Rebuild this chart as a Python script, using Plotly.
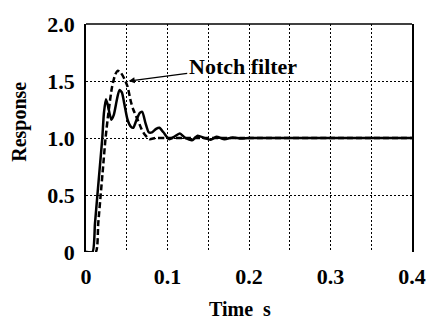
import plotly.graph_objects as go

# Solid curve (with notch filter)
t_solid = [0, 0.008, 0.011, 0.014, 0.017, 0.020, 0.022, 0.0245, 0.027, 0.031, 0.034, 0.038, 0.041, 0.044,
           0.047, 0.051, 0.055, 0.058, 0.062, 0.066, 0.069, 0.073, 0.077, 0.081, 0.086, 0.090, 0.095,
           0.102, 0.108, 0.115, 0.122, 0.130, 0.137, 0.145, 0.153, 0.160, 0.170, 0.180, 0.190, 0.200,
           0.220, 0.250, 0.300, 0.350, 0.400]
y_solid = [0, 0, 0.25, 0.5, 0.75, 1.0, 1.22, 1.34, 1.28, 1.16, 1.20, 1.34, 1.42, 1.40,
           1.30, 1.16, 1.10, 1.09, 1.16, 1.22, 1.23, 1.13, 1.05, 1.05, 1.08, 1.09, 1.05,
           0.99, 1.01, 1.04, 1.00, 0.98, 1.02, 1.00, 0.985, 1.01, 0.99, 1.005, 0.995, 1.0,
           1.0, 1.0, 1.0, 1.0, 1.0]

# Dashed curve (without notch filter)
t_dash = [0, 0.012, 0.015, 0.018, 0.021, 0.024, 0.028, 0.032, 0.036, 0.039, 0.043, 0.047, 0.051,
          0.055, 0.058, 0.064, 0.068, 0.072, 0.078, 0.085, 0.100, 0.200, 0.300, 0.400]
y_dash = [0, 0, 0.25, 0.5, 0.75, 1.0, 1.25, 1.45, 1.56, 1.59, 1.57, 1.52, 1.45,
          1.32, 1.25, 1.15, 1.08, 1.03, 0.99, 1.0, 1.0, 1.0, 1.0, 1.0]

x_grid = [0, 0.05, 0.1, 0.15, 0.2, 0.25, 0.3, 0.35, 0.4]
x_labels = ["0", "", "0.1", "", "0.2", "", "0.3", "", "0.4"]
y_ticks = [0, 0.5, 1.0, 1.5, 2.0]
y_labels = ["0", "0.5", "1.0", "1.5", "2.0"]

FONT = "Liberation Serif"

fig = go.Figure()
fig.add_trace(go.Scatter(x=t_dash, y=y_dash, mode="lines",
                         line=dict(color="black", width=2.5, dash="6px,3px", shape="spline", smoothing=0.6)))
fig.add_trace(go.Scatter(x=t_solid, y=y_solid, mode="lines",
                         line=dict(color="black", width=2.5, shape="spline", smoothing=0.6)))

fig.update_layout(
    width=438, height=320,
    margin=dict(l=86, r=16, t=20, b=68),
    paper_bgcolor="white", plot_bgcolor="white",
    showlegend=False,
    font=dict(family=FONT, color="black", size=22, weight="bold"),
)
fig.update_xaxes(range=[0, 0.4], tickvals=x_grid, ticktext=x_labels,
                 showgrid=True, gridcolor="black", griddash="2px,2px", gridwidth=1,
                 zeroline=False, showline=False, ticks="", ticklabelstandoff=9,
                 tickfont=dict(family=FONT, size=22, weight="bold"))
fig.update_yaxes(range=[0, 2.0], tickvals=y_ticks, ticktext=y_labels,
                 showgrid=True, gridcolor="black", griddash="2px,2px", gridwidth=1,
                 zeroline=False, showline=True, linecolor="black", linewidth=1.5, mirror=True,
                 ticks="", ticklabelstandoff=5,
                 tickfont=dict(family=FONT, size=22, weight="bold"))
# top border
fig.add_shape(type="line", xref="paper", yref="paper", x0=0, x1=1, y0=1, y1=1,
              line=dict(color="black", width=1.5))

fig.add_annotation(x=0.0524, y=1.50, xref="x", yref="y", text="Notch filter",
                   showarrow=True, ax=114, ay=-15, arrowhead=2, arrowsize=1, arrowwidth=1.2,
                   arrowcolor="black", font=dict(family=FONT, size=22, weight="bold"))
fig.add_annotation(x=0.473, y=0, xref="paper", yref="paper", text="Time  s",
                   showarrow=False, yanchor="top", yshift=-44,
                   font=dict(family=FONT, size=20, weight="bold"))
fig.add_annotation(x=0, y=0.569, xref="paper", yref="paper", text="Response", textangle=-90,
                   showarrow=False, xanchor="right", xshift=-53,
                   font=dict(family=FONT, size=20, weight="bold"))

fig.write_html("out.html")
